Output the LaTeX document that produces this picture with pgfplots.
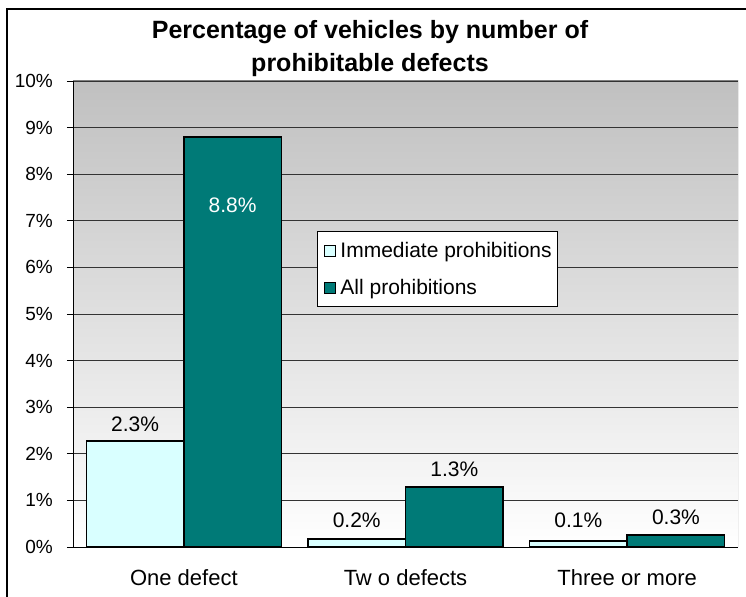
\documentclass[border=0pt]{standalone}
\usepackage{fontspec}
\setmainfont{Liberation Sans}
\usepackage{pgfplots}
\pgfplotsset{compat=1.18}
\definecolor{immed}{HTML}{D9FFFF}
\definecolor{allp}{HTML}{007A77}
\definecolor{bgtop}{HTML}{C0C0C0}

\begin{document}
\begin{tikzpicture}
\path[use as bounding box] (-73bp,-50bp) rectangle (673bp,547bp);
\begin{axis}[
  at={(0,0)}, anchor=south west,
  scale only axis, width=665bp, height=466bp,
  xmin=-0.5, xmax=2.5, ymin=0, ymax=10,
  axis lines=left, axis line style={-, black, line width=1bp},
  axis background/.style={top color=bgtop, bottom color=white},
  ytick={0,1,...,10},
  yticklabels={0\%,1\%,2\%,3\%,4\%,5\%,6\%,7\%,8\%,9\%,10\%},
  ymajorgrids, grid style={black!80, line width=0.8bp},
  xtick={0,1,2},
  xticklabels={One defect,Tw o defects,Three or more},
  major x tick style={draw=none},
  extra x ticks={-0.5,0.5,1.5,2.5},
  extra x tick labels={},
  extra x tick style={major tick style={draw=black, line width=0.8bp}, grid=none},
  tick align=outside, major tick length=6bp,
  tick style={black, line width=0.8bp},
  yticklabel style={font=\fontsize{19bp}{22bp}\selectfont, inner sep=0pt, xshift=-14bp},
  xticklabel style={font=\fontsize{22bp}{26bp}\selectfont, yshift=-13bp},
  ybar, bar width=0.44,
  legend style={at={(rel axis cs:0.367,0.678)}, anchor=north west,
    draw=black, fill=white, line width=0.8bp,
    font=\fontsize{21bp}{25bp}\selectfont, row sep=16bp,
    inner xsep=4bp, inner ysep=9bp},
  legend cell align=left,
  legend image code/.code={\draw[#1, line width=0.8bp] (3bp,-5.5bp) rectangle (14bp,5.5bp);
    \path[draw=none, fill=none] (0bp,0bp) -- (17bp,0bp);},
]
\addplot[ybar, bar shift=-0.22, fill=immed, draw=black, line width=1.5bp]
  coordinates {(0,2.27) (1,0.17) (2,0.13)};
\addlegendentry{Immediate prohibitions}
\addplot[ybar, bar shift=0.22, fill=allp, draw=black, line width=1.5bp]
  coordinates {(0,8.8) (1,1.29) (2,0.26)};
\addlegendentry{All prohibitions}
\draw[gray, line width=1bp] (rel axis cs:0,1) -- (rel axis cs:1,1) -- (rel axis cs:1,0);
\begin{scope}[every node/.style={font=\fontsize{21bp}{25bp}\selectfont, inner sep=0pt, anchor=base}]
\node at (axis cs:-0.22,2.27) [yshift=10bp] {2.3\%};
\node[white] at (axis cs:0.22,8.8) [yshift=-76bp] {8.8\%};
\node at (axis cs:0.78,0.2) [yshift=10bp] {0.2\%};
\node at (axis cs:1.22,1.29) [yshift=10bp] {1.3\%};
\node at (axis cs:1.78,0.2) [yshift=10bp] {0.1\%};
\node at (axis cs:2.22,0.26) [yshift=10bp] {0.3\%};
\end{scope}
\end{axis}
\node[align=center, font=\fontsize{25bp}{33bp}\selectfont\bfseries] at (297bp,498bp)
  {Percentage of vehicles by number of\\prohibitable defects};
\draw[black, line width=2bp] (-66bp,-60bp) -- (-66bp,538bp) -- (690bp,538bp);
\end{tikzpicture}
\end{document}
